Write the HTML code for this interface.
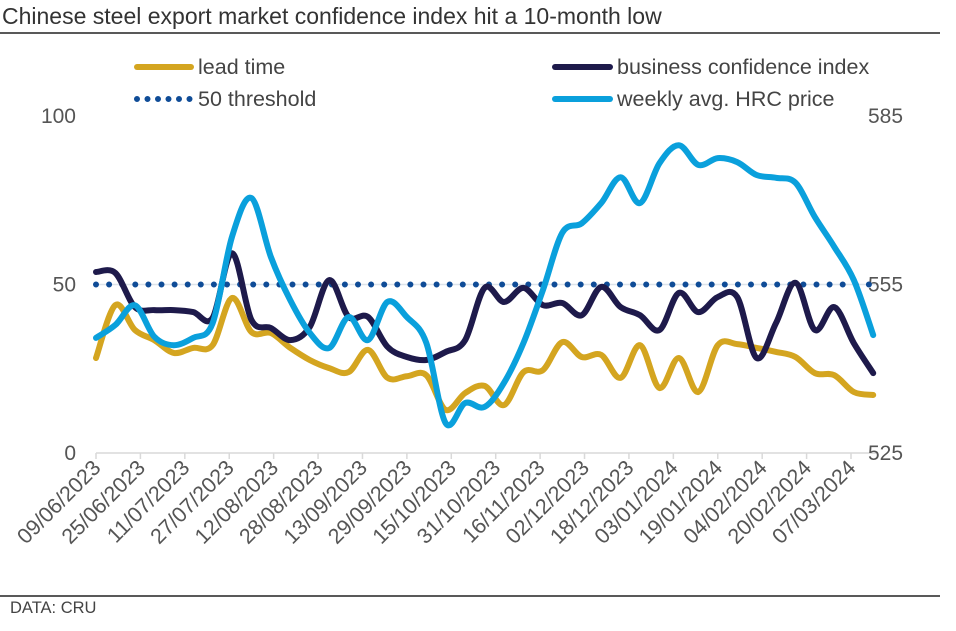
<!DOCTYPE html>
<html><head><meta charset="utf-8"><style>
body{margin:0;background:#fff;font-family:"Liberation Sans",Arial,sans-serif;}
svg text{font-family:"Liberation Sans",Arial,sans-serif;}
</style></head><body>
<svg id="chart" width="956" height="626" xmlns="http://www.w3.org/2000/svg">
<text x="2" y="24" font-size="23" fill="#333">Chinese steel export market confidence index hit a 10-month low</text>
<line x1="0" y1="33" x2="940" y2="33" stroke="#222" stroke-width="1.5"/>
<g font-size="21.5" fill="#444">
<g><line x1="137" y1="67" x2="191" y2="67" stroke="#d4a520" stroke-width="6" stroke-linecap="round"/><text x="198" y="74">lead time</text></g>
<g><line x1="555" y1="67" x2="610" y2="67" stroke="#1e1a4b" stroke-width="6" stroke-linecap="round"/><text x="617" y="74">business confidence index</text></g>
<g><line x1="137" y1="99" x2="193" y2="99" stroke="#0f4c97" stroke-width="6" stroke-linecap="round" stroke-dasharray="0 10.5"/><text x="198" y="106">50 threshold</text></g>
<g><line x1="555" y1="99" x2="610" y2="99" stroke="#0aa0dc" stroke-width="6" stroke-linecap="round"/><text x="617" y="106">weekly avg. HRC price</text></g>
</g>
<g id="plot"></g>
<line x1="0" y1="596" x2="940" y2="596" stroke="#222" stroke-width="1.5"/>
<text x="10" y="613" font-size="16.5" fill="#444">DATA: CRU</text>
</svg>
<script>
const tickLabels=["09/06/2023","25/06/2023","11/07/2023","27/07/2023","12/08/2023","28/08/2023","13/09/2023","29/09/2023","15/10/2023","31/10/2023","16/11/2023","02/12/2023","18/12/2023","03/01/2024","19/01/2024","04/02/2024","20/02/2024","07/03/2024"];
const leftTicks=[0,50,100];
const rightTicks=[525,555,585];
const leadTime=[28.2,43.9,36.5,33.5,29.7,31.2,32.0,46.0,35.9,35.6,31.2,27.6,25.2,24.0,30.6,22.3,22.8,23.1,12.8,17.8,19.9,14.2,24.0,24.6,32.9,28.5,29.1,22.3,32.0,19.3,28.2,18.1,32.0,32.3,31.2,30.0,28.5,23.7,23.1,18.1,17.2];
const confidence=[53.7,53.4,43.3,42.4,42.4,41.8,40.1,59.3,39.5,37.1,33.5,37.4,51.3,40.4,40.4,31.5,28.5,27.6,30.0,33.5,49.0,44.8,49.0,43.9,44.5,40.9,49.3,43.3,40.9,36.5,47.5,41.8,46.3,46.3,28.2,38.6,50.5,36.5,43.3,32.6,23.7];
const hrcPrice=[545.5,547.8,551.3,545.7,544.2,545.5,548.1,563.5,570.4,559.9,552.2,546.4,543.7,549.2,545.1,551.9,549.2,544.6,530.3,533.9,533.2,537.5,544.6,554.0,564.2,565.9,569.5,574.1,569.5,576.6,579.8,576.3,577.5,576.8,574.5,574.0,573.1,567.0,561.7,555.8,546.0];
const threshold=50;

const X0=96,PXDAY=755/272,Y0=453,YTOP=116;
const xDay=d=>X0+d*PXDAY;
const xWeek=i=>xDay(i*7);
const yL=v=>Y0-(v/100)*(Y0-YTOP);
const yR=v=>Y0-((v-525)/60)*(Y0-YTOP);
const NS="http://www.w3.org/2000/svg";
const plot=document.getElementById('plot');
function mk(tag,attrs,parent){const e=document.createElementNS(NS,tag);for(const k in attrs)e.setAttribute(k,attrs[k]);(parent||plot).appendChild(e);return e;}

const ax=mk('line',{x1:X0,y1:Y0,x2:876,y2:Y0,stroke:'#d9d9d9','stroke-width':1.5});


tickLabels.forEach((t,i)=>{
  const x=xDay(i*16);
  const tk=mk('line',{x1:x,y1:Y0,x2:x,y2:Y0+6,stroke:'#d9d9d9','stroke-width':1.5});
  
  
  const tx=mk('text',{x:x+6,y:Y0+16,'font-size':21.5,fill:'#555','text-anchor':'end',transform:`rotate(-45 ${x+6} ${Y0+16})`});
  tx.textContent=t;
  
  
});
leftTicks.forEach(v=>{
  const t=mk('text',{x:76,y:yL(v)+7,'font-size':21,fill:'#555','text-anchor':'end'});
  t.textContent=v;
  
  
});
rightTicks.forEach(v=>{
  const t=mk('text',{x:868,y:yR(v)+7,'font-size':21,fill:'#555'});
  t.textContent=v;
  
  
});
const th0=mk('line',{x1:X0,y1:yL(threshold),x2:876,y2:yL(threshold),stroke:'#dde3ea','stroke-width':1.5});


const th=mk('line',{x1:X0,y1:yL(threshold),x2:876,y2:yL(threshold),stroke:'#0f4c97','stroke-width':6,'stroke-linecap':'round','stroke-dasharray':'0 13.1'});



function smooth(pts){
  let d=`M${pts[0][0].toFixed(1)},${pts[0][1].toFixed(1)}`;
  for(let i=0;i<pts.length-1;i++){
    const p0=pts[i-1]||pts[i],p1=pts[i],p2=pts[i+1],p3=pts[i+2]||p2;
    const c1=[p1[0]+(p2[0]-p0[0])/6,p1[1]+(p2[1]-p0[1])/6];
    const c2=[p2[0]-(p3[0]-p1[0])/6,p2[1]-(p3[1]-p1[1])/6];
    d+=`C${c1[0].toFixed(1)},${c1[1].toFixed(1)} ${c2[0].toFixed(1)},${c2[1].toFixed(1)} ${p2[0].toFixed(1)},${p2[1].toFixed(1)}`;
  }
  return d;
}
function series(arr,yf,color,name){
  const pts=arr.map((v,i)=>[xWeek(i),yf(v)]);
  const p=mk('path',{d:smooth(pts),fill:'none',stroke:color,'stroke-width':6,'stroke-linejoin':'round','stroke-linecap':'round'});
  
  
}
series(leadTime,yL,'#d4a520','lead-time-line');
series(confidence,yL,'#1e1a4b','business-confidence-line');
series(hrcPrice,yR,'#0aa0dc','hrc-price-line');
</script>
</body></html>
